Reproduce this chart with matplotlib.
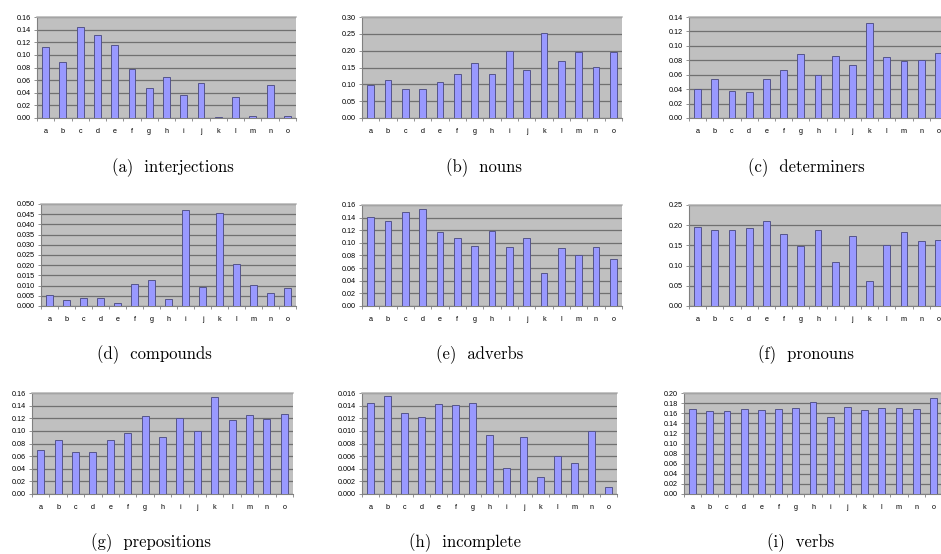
"""Nine small Excel-style bar panels, one per word class."""
import matplotlib.pyplot as plt
import numpy as np
from matplotlib.ticker import FormatStrFormatter, MultipleLocator

LETTERS = list("abcdefghijklmno")

interjections = [0.112, 0.089, 0.144, 0.132, 0.115, 0.077, 0.047, 0.065,
                 0.036, 0.056, 0.001, 0.033, 0.0026, 0.053, 0.0026]
nouns = [0.099, 0.114, 0.087, 0.085, 0.108, 0.131, 0.164, 0.131,
         0.199, 0.143, 0.252, 0.170, 0.196, 0.152, 0.196]
determiners = [0.0405, 0.0534, 0.038, 0.0355, 0.0534, 0.0659, 0.0894, 0.060,
               0.0866, 0.0728, 0.132, 0.0852, 0.0797, 0.081, 0.0907]
compounds = [0.0054, 0.0029, 0.0039, 0.0039, 0.0016, 0.0108, 0.0127, 0.0036,
             0.0469, 0.0093, 0.0454, 0.0204, 0.0103, 0.0064, 0.0087]
adverbs = [0.1416, 0.135, 0.149, 0.154, 0.118, 0.108, 0.095, 0.119,
           0.093, 0.107, 0.052, 0.0916, 0.080, 0.0937, 0.074]
pronouns = [0.195, 0.187, 0.187, 0.192, 0.210, 0.178, 0.148, 0.1875,
            0.110, 0.174, 0.061, 0.150, 0.184, 0.160, 0.164]
prepositions = [0.0695, 0.085, 0.066, 0.067, 0.086, 0.096, 0.123, 0.090,
                0.121, 0.0995, 0.153, 0.118, 0.125, 0.119, 0.126]
incomplete = [0.01447, 0.01558, 0.01279, 0.01226, 0.01432, 0.01405, 0.01447,
              0.00942, 0.00405, 0.0091, 0.00263, 0.00595, 0.00484, 0.0100,
              0.00105]
verbs = [0.169, 0.165, 0.165, 0.169, 0.1665, 0.169, 0.171, 0.183,
         0.153, 0.173, 0.1665, 0.171, 0.171, 0.169, 0.191]

# (caption, values, ymax, ystep, tick format)
PANELS = [
    ("(a)  interjections", interjections, 0.16, 0.02, "%.2f"),
    ("(b)  nouns", nouns, 0.30, 0.05, "%.2f"),
    ("(c)  determiners", determiners, 0.14, 0.02, "%.2f"),
    ("(d)  compounds", compounds, 0.050, 0.005, "%.3f"),
    ("(e)  adverbs", adverbs, 0.16, 0.02, "%.2f"),
    ("(f)  pronouns", pronouns, 0.25, 0.05, "%.2f"),
    ("(g)  prepositions", prepositions, 0.16, 0.02, "%.2f"),
    ("(h)  incomplete", incomplete, 0.016, 0.002, "%.3f"),
    ("(i)  verbs", verbs, 0.20, 0.02, "%.2f"),
]

# pixel boxes (left, top, right, bottom) and caption centres (x, y)
BOXES = [
    (37, 17, 296, 118), (362, 17, 622, 118), (689, 17, 947, 118),
    (41, 204, 296, 306), (362, 205, 622, 306), (689, 205, 947, 306),
    (32, 393, 293, 494), (362, 393, 617, 494), (684, 393, 942, 494),
]
CAPTIONS = [
    (173, 168), (484, 168), (806, 168),
    (154, 355), (480, 355), (806, 355),
    (151, 543), (465, 543), (801, 543),
]

W, H = 941, 554
fig = plt.figure(figsize=(W / 100, H / 100), dpi=100)

for (caption, vals, ymax, ystep, fmt), (l, t, r, b), (cx, cy) in zip(
        PANELS, BOXES, CAPTIONS):
    ax = fig.add_axes([l / W, 1 - b / H, (r - l) / W, (b - t) / H])
    x = np.arange(len(LETTERS))
    ax.set_facecolor("#C0C0C0")
    ax.bar(x, vals, width=0.4, color="#9999FF", edgecolor="#55558A",
           linewidth=0.7, zorder=3)
    ax.set_xlim(-0.5, len(LETTERS) - 0.5)
    ax.set_ylim(0, ymax)
    ax.yaxis.set_major_locator(MultipleLocator(ystep))
    ax.yaxis.set_major_formatter(FormatStrFormatter(fmt))
    ax.grid(axis="y", color="#707070", linewidth=0.9, zorder=1)
    ax.set_axisbelow(True)

    # category labels at centres, tick marks at the boundaries
    ax.set_xticks(np.arange(len(LETTERS) + 1) - 0.5)
    ax.set_xticklabels([])
    ax.set_xticks(x, minor=True)
    ax.set_xticklabels(LETTERS, minor=True, fontsize=5.2,
                       family="Liberation Sans")
    ax.tick_params(axis="x", which="major", length=2.5, width=0.6,
                   color="#808080")
    ax.tick_params(axis="x", which="minor", length=0, pad=7.5)
    ax.tick_params(axis="y", length=2.2, width=0.6, color="#808080",
                   pad=2, labelsize=5.2)
    for lab in ax.get_yticklabels():
        lab.set_family("Liberation Sans")

    # Excel draws the top edge of the plot area as a pale line
    ax.spines["right"].set_visible(False)
    ax.spines["top"].set_color("#B4B4B4")
    ax.spines["top"].set_linewidth(1.1)
    for side in ("left", "bottom"):
        ax.spines[side].set_color("#808080")
        ax.spines[side].set_linewidth(0.8)

    fig.text(cx / W, 1 - cy / H, caption, ha="center", va="center",
             fontsize=12, family="cmr10")

fig.savefig("out.png", dpi=100)
